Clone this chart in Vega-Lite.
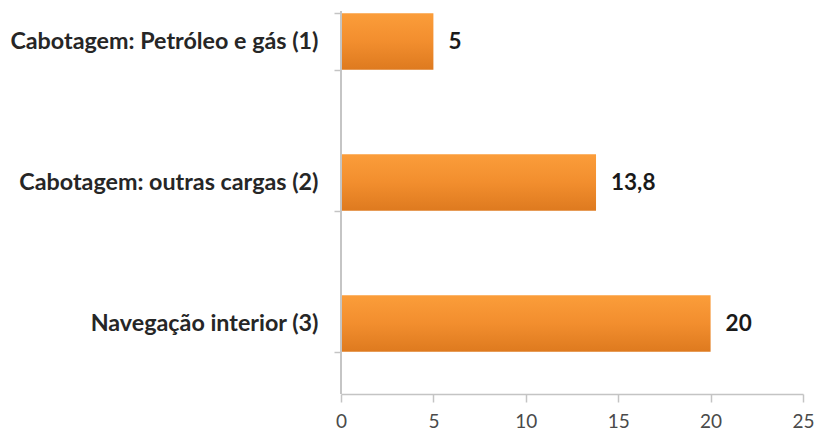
{
  "$schema": "https://vega.github.io/schema/vega-lite/v6.json",
  "width": 462,
  "height": 383,
  "autosize": {"type": "none"},
  "padding": {"left": 341, "top": 11, "right": 16, "bottom": 38},
  "background": "white",
  "config": {"view": {"stroke": null}},
  "data": {
    "values": [
      {"categoria": "Cabotagem: Petróleo e gás (1)", "valor": 5, "rotulo": "5"},
      {"categoria": "Cabotagem: outras cargas (2)", "valor": 13.8, "rotulo": "13,8"},
      {"categoria": "Navegação interior (3)", "valor": 20, "rotulo": "20"}
    ]
  },
  "encoding": {
    "y": {
      "field": "categoria",
      "type": "nominal",
      "sort": null,
      "scale": {"range": [-40, 383], "paddingInner": 0.6, "paddingOuter": 0.3},
      "axis": {
        "title": null,
        "domain": false,
        "tickBand": "extent",
        "tickSize": 7,
        "tickColor": "#c4c4c4",
        "tickWidth": 1.5,
        "labelPadding": 16,
        "labelFont": "Lato",
        "labelFontWeight": "bold",
        "labelFontSize": 23.3,
        "labelColor": "#262626",
        "labelLimit": 400
      }
    }
  },
  "layer": [
    {
      "mark": {
        "type": "bar",
        "color": {
          "gradient": "linear",
          "x1": 0, "y1": 0, "x2": 0, "y2": 1,
          "stops": [
            {"offset": 0, "color": "#fb9d3a"},
            {"offset": 0.5, "color": "#f28e2e"},
            {"offset": 1, "color": "#de7a1f"}
          ]
        }
      },
      "encoding": {
        "x": {
          "field": "valor",
          "type": "quantitative",
          "scale": {"domain": [0, 25], "nice": false},
          "axis": {
            "title": null,
            "grid": false,
            "values": [0, 5, 10, 15, 20, 25],
            "domainColor": "#c4c4c4",
            "domainWidth": 1.5,
            "tickColor": "#c4c4c4",
            "tickWidth": 1.5,
            "tickSize": 8,
            "labelPadding": 10,
            "labelFont": "Lato",
            "labelFontSize": 19,
            "labelColor": "#4a4a4a",
            "labelFlush": false
          }
        }
      }
    },
    {
      "mark": {"type": "rule", "color": "#c4c4c4", "strokeWidth": 1.5},
      "encoding": {"x": {"datum": 0, "type": "quantitative"}, "y": null}
    },
    {
      "mark": {
        "type": "text",
        "align": "left",
        "baseline": "middle",
        "dx": 15,
        "font": "Lato",
        "fontWeight": "bold",
        "fontSize": 22.5,
        "color": "#1a1a1a"
      },
      "encoding": {
        "x": {"field": "valor", "type": "quantitative"},
        "text": {"field": "rotulo", "type": "nominal"}
      }
    }
  ]
}
